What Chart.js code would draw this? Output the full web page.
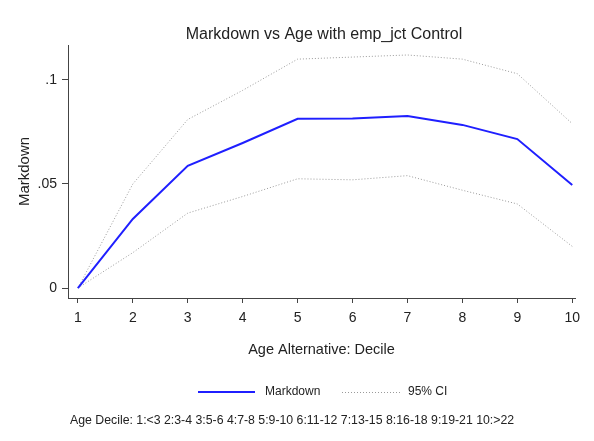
<!DOCTYPE html>
<html>
<head>
<meta charset="utf-8">
<script src="https://cdn.jsdelivr.net/npm/chart.js@4"></script>
<style>
  html, body { margin: 0; padding: 0; background: #fff; }
  #chart { display: block; }
</style>
</head>
<body>
<canvas id="chart" width="594" height="441"></canvas>
<script>
// --- Data ---
const deciles   = [1, 2, 3, 4, 5, 6, 7, 8, 9, 10];
const markdown  = [0, 0.0332, 0.0587, 0.0697, 0.0813, 0.0815, 0.0827, 0.0784, 0.0716, 0.0495];
const ciUpper   = [0, 0.0500, 0.0810, 0.0950, 0.1100, 0.1110, 0.1120, 0.1100, 0.1030, 0.0790];
const ciLower   = [0, 0.0170, 0.0360, 0.0440, 0.0525, 0.0520, 0.0540, 0.0470, 0.0404, 0.0200];

const yTickValues = [0, 0.05, 0.1];
const yTickLabels = ['0', '.05', '.1'];
const xTickValues = [1, 2, 3, 4, 5, 6, 7, 8, 9, 10];

const TITLE = 'Markdown vs Age with emp_jct Control';
const NOTE  = 'Age Decile: 1:<3 2:3-4 3:5-6 4:7-8 5:9-10 6:11-12 7:13-15 8:16-18 9:19-21 10:>22';

const BLUE = '#1f1fff';
const GRAY = '#9a9a9a';
const AXIS = '#444';
const TEXT = '#222';
const FONT = '"Liberation Sans", Arial, sans-serif';

const toXY = vals => deciles.map((d, i) => ({ x: d, y: vals[i] }));

// title, legend and note drawn at fixed spots, like the Stata graph
const extras = {
  id: 'extras',
  afterDraw(chart) {
    const ctx = chart.ctx;
    ctx.save();
    ctx.fillStyle = TEXT;
    ctx.textBaseline = 'middle';

    ctx.font = '16px ' + FONT;
    ctx.textAlign = 'center';
    ctx.fillText(TITLE, 324, 35);

    // legend
    ctx.lineWidth = 2;
    ctx.strokeStyle = BLUE;
    ctx.beginPath(); ctx.moveTo(198, 392); ctx.lineTo(255, 392); ctx.stroke();
    ctx.lineWidth = 1;
    ctx.strokeStyle = GRAY;
    ctx.setLineDash([1, 2]);
    ctx.beginPath(); ctx.moveTo(342, 392.5); ctx.lineTo(401, 392.5); ctx.stroke();
    ctx.setLineDash([]);

    ctx.font = '12px ' + FONT;
    ctx.textAlign = 'left';
    ctx.fillText('Markdown', 265, 392);
    ctx.fillText('95% CI', 408, 392);

    ctx.font = '12.3px ' + FONT;
    ctx.fillText(NOTE, 70, 421);
    ctx.restore();
  }
};

new Chart(document.getElementById('chart'), {
  type: 'line',
  data: {
    datasets: [
      {
        label: 'Markdown',
        data: toXY(markdown),
        borderColor: BLUE,
        borderWidth: 2,
        pointRadius: 0,
        tension: 0,
        fill: false,
        order: 0,
      },
      {
        label: '95% CI',
        data: toXY(ciUpper),
        borderColor: GRAY,
        borderWidth: 1,
        borderDash: [1, 2],
        pointRadius: 0,
        tension: 0,
        fill: false,
        order: 1,
      },
      {
        label: '95% CI lower',
        data: toXY(ciLower),
        borderColor: GRAY,
        borderWidth: 1,
        borderDash: [1, 2],
        pointRadius: 0,
        tension: 0,
        fill: false,
        order: 1,
      }
    ]
  },
  options: {
    responsive: false,
    animation: false,
    layout: { padding: { left: 0, right: 19, top: 45, bottom: 73 } },
    plugins: {
      legend: { display: false },
      title: { display: false },
      tooltip: { enabled: false }
    },
    scales: {
      x: {
        type: 'linear',
        min: 0.82,
        max: 10.05,
        afterBuildTicks: s => { s.ticks = xTickValues.map(v => ({ value: v })); },
        afterFit: s => { s.height = 70; },
        grid: { display: true, drawOnChartArea: false, drawTicks: true, tickLength: 5, color: AXIS },
        border: { display: true, color: AXIS, width: 1 },
        ticks: { padding: 7, color: TEXT, font: { family: FONT, size: 14 }, maxRotation: 0, autoSkip: false },
        title: { display: true, text: 'Age Alternative: Decile', color: TEXT, font: { family: FONT, size: 14.5 }, padding: { top: 0, bottom: 9 } }
      },
      y: {
        type: 'linear',
        min: -0.0048,
        max: 0.1168,
        afterBuildTicks: s => { s.ticks = yTickValues.map(v => ({ value: v })); },
        afterFit: s => { s.width = 68; },
        grid: { display: true, drawOnChartArea: false, drawTicks: true, tickLength: 6, color: AXIS },
        border: { display: true, color: AXIS, width: 1 },
        ticks: {
          padding: 5,
          color: TEXT,
          font: { family: FONT, size: 14 },
          callback: v => {
            const i = yTickValues.findIndex(t => Math.abs(t - v) < 1e-9);
            return i >= 0 ? yTickLabels[i] : '';
          }
        },
        title: { display: true, text: 'Markdown', color: TEXT, font: { family: FONT, size: 15 }, padding: { top: 16, bottom: 0 } }
      }
    }
  },
  plugins: [extras]
});
</script>
</body>
</html>
